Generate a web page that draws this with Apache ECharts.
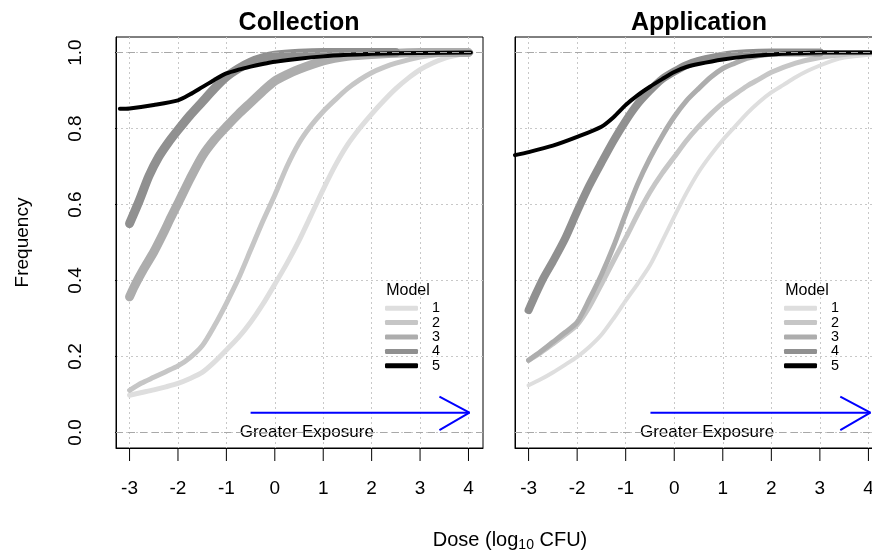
<!DOCTYPE html>
<html>
<head>
<meta charset="utf-8">
<script src="https://cdn.jsdelivr.net/npm/echarts@6/dist/echarts.min.js"></script>
<style>
html, body { margin: 0; padding: 0; background: #fff; }
#chart { width: 872px; height: 553px; }
</style>
</head>
<body>
<div id="chart"></div>
<script>
// tick values
var xTicks = [-3, -2, -1, 0, 1, 2, 3, 4];
var yTicks = [0, 0.2, 0.4, 0.6, 0.8, 1.0];
var modelNames = ['1', '2', '3', '4', '5'];
var panelTitles = ['Collection', 'Application'];

// Collection panel, [dose, frequency]
var colModel1 = [[-3,0.098],[-2.75,0.105],[-2.5,0.112],[-2.25,0.12],[-2,0.129],[-1.75,0.142],[-1.5,0.158],[-1.25,0.185],[-1,0.217],[-0.75,0.25],[-0.5,0.29],[-0.25,0.337],[0,0.39],[0.25,0.445],[0.5,0.505],[0.75,0.572],[1,0.64],[1.25,0.703],[1.5,0.757],[1.75,0.8],[2,0.838],[2.25,0.873],[2.5,0.905],[2.75,0.932],[3,0.955],[3.25,0.972],[3.5,0.985],[3.75,0.993],[4.05,1]];
var colModel2 = [[-3,0.111],[-2.75,0.13],[-2.5,0.145],[-2.25,0.16],[-2,0.175],[-1.75,0.197],[-1.5,0.228],[-1.25,0.28],[-1,0.34],[-0.75,0.405],[-0.5,0.48],[-0.25,0.555],[0,0.625],[0.25,0.7],[0.5,0.762],[0.75,0.808],[1,0.845],[1.25,0.876],[1.5,0.905],[1.75,0.928],[2,0.947],[2.25,0.961],[2.5,0.972],[3,0.988],[3.5,0.996],[4.05,1]];
var colModel3 = [[-3,0.357],[-2.9,0.385],[-2.7,0.432],[-2.5,0.475],[-2.3,0.525],[-2.15,0.565],[-2,0.603],[-1.75,0.668],[-1.5,0.727],[-1.25,0.77],[-1,0.805],[-0.75,0.838],[-0.5,0.868],[-0.25,0.898],[0,0.925],[0.25,0.942],[0.5,0.956],[1,0.978],[1.5,0.99],[2,0.995],[3,1],[4,1]];
var colModel4 = [[-3,0.55],[-2.8,0.61],[-2.6,0.675],[-2.4,0.725],[-2.2,0.763],[-2,0.796],[-1.75,0.835],[-1.5,0.87],[-1.25,0.905],[-1,0.936],[-0.75,0.958],[-0.5,0.975],[-0.25,0.986],[0,0.993],[0.5,0.998],[1,1],[2.5,1]];
var colModel5 = [[-3.2,0.852],[-3,0.853],[-2.5,0.862],[-2,0.874],[-1.75,0.89],[-1.5,0.909],[-1.25,0.928],[-1,0.945],[-0.75,0.955],[-0.5,0.963],[-0.25,0.97],[0,0.976],[0.5,0.984],[1,0.99],[1.5,0.994],[2,0.997],[3,0.999],[4.05,1]];

// Application panel, [dose, frequency]
var appModel1 = [[-3,0.124],[-2.75,0.14],[-2.5,0.158],[-2.25,0.178],[-2,0.199],[-1.75,0.225],[-1.5,0.257],[-1.25,0.3],[-1,0.347],[-0.75,0.392],[-0.5,0.44],[-0.25,0.503],[0,0.568],[0.25,0.63],[0.5,0.685],[0.75,0.73],[1,0.77],[1.25,0.805],[1.5,0.84],[1.75,0.87],[2,0.895],[2.25,0.915],[2.5,0.935],[2.75,0.952],[3,0.966],[3.25,0.978],[3.5,0.987],[4.05,0.995]];
var appModel2 = [[-3,0.19],[-2.75,0.21],[-2.5,0.233],[-2.25,0.257],[-2,0.283],[-1.75,0.33],[-1.5,0.39],[-1.25,0.452],[-1,0.512],[-0.75,0.575],[-0.5,0.633],[-0.25,0.682],[0,0.725],[0.25,0.768],[0.5,0.805],[0.75,0.838],[1,0.867],[1.25,0.89],[1.5,0.912],[1.75,0.93],[2,0.948],[2.5,0.972],[3,0.987],[3.5,0.995],[4.05,1]];
var appModel3 = [[-3,0.19],[-2.75,0.213],[-2.5,0.238],[-2.25,0.263],[-2,0.29],[-1.75,0.35],[-1.5,0.415],[-1.25,0.49],[-1,0.575],[-0.75,0.655],[-0.5,0.722],[-0.25,0.78],[0,0.831],[0.25,0.873],[0.5,0.905],[0.75,0.935],[1,0.958],[1.25,0.972],[1.5,0.985],[2,0.996],[2.5,1],[4,1]];
var appModel4 = [[-3,0.322],[-2.85,0.365],[-2.7,0.405],[-2.5,0.45],[-2.25,0.51],[-2,0.582],[-1.75,0.65],[-1.5,0.71],[-1.25,0.768],[-1,0.82],[-0.75,0.865],[-0.5,0.9],[-0.25,0.93],[0,0.95],[0.25,0.967],[0.5,0.978],[1,0.992],[1.5,0.998],[2,1],[3,1]];
var appModel5 = [[-3.28,0.73],[-3,0.738],[-2.5,0.755],[-2,0.778],[-1.5,0.805],[-1.25,0.83],[-1,0.862],[-0.75,0.888],[-0.5,0.91],[-0.25,0.93],[0,0.949],[0.25,0.962],[0.5,0.97],[1,0.982],[1.5,0.99],[2,0.995],[2.5,0.998],[3,1],[4.05,1]];

// "Greater Exposure" arrow, [dose, frequency]
var colArrowShaft = [[-0.5,0.052],[4.02,0.052]];
var colArrowHead = [[3.4,0.094],[4.02,0.052],[3.4,0.006]];
var appArrowShaft = [[-0.49,0.052],[4.04,0.052]];
var appArrowHead = [[3.42,0.094],[4.04,0.052],[3.42,0.006]];
var arrowText = 'Greater Exposure';
var colArrowTextAt = [[0.67, 0]];
var appArrowTextAt = [[0.685, 0]];

var FONT = '"Liberation Sans", Arial, sans-serif';
var modelColors = ['#dedede', '#c6c6c6', '#adadad', '#909090', '#000000'];
var colWidths = [5, 5, 9, 9, 4];
var appWidths = [4, 5, 5, 8, 4];

// axis ranges (R pads 4%) and panel sizes in px
var X_MIN = -3.28, X_MAX = 4.30, Y_MIN = -0.041, Y_MAX = 1.041;
var GRID_W = 367, GRID_H = 411, TICK_PX = 13;
var tickLenX = TICK_PX * (X_MAX - X_MIN) / GRID_W;   // in dose units
var tickLenY = TICK_PX * (Y_MAX - Y_MIN) / GRID_H;   // in frequency units

var myChart = echarts.init(document.getElementById('chart'));

function makeX(idx) {
    return {
        type: 'value', gridIndex: idx, min: X_MIN, max: X_MAX,
        axisLine: { show: true, onZero: false, lineStyle: { color: '#000', width: 1 } },
        axisTick: { show: false, customValues: xTicks },
        axisLabel: { customValues: xTicks, margin: 31, color: '#000', fontSize: 19, fontFamily: FONT },
        splitLine: { show: true, lineStyle: { color: '#c8c8c8', type: [2, 3], width: 1 } }
    };
}
function makeY(idx) {
    var y = {
        type: 'value', gridIndex: idx, min: Y_MIN, max: Y_MAX,
        axisLine: { show: true, onZero: false, lineStyle: { color: '#000', width: 1 } },
        axisTick: { show: false, customValues: yTicks },
        axisLabel: {
            show: idx == 0, customValues: yTicks, rotate: 90, margin: 31, color: '#000',
            fontSize: 19, fontFamily: FONT,
            formatter: function (v) { return v.toFixed(1); }
        },
        splitLine: { show: true, lineStyle: { color: '#c8c8c8', type: [2, 3], width: 1 } }
    };
    if (idx == 0) {
        y.name = 'Frequency';
        y.nameLocation = 'middle';
        y.nameGap = 84;
        y.nameRotate = 90;
        y.nameTextStyle = { color: '#000', fontSize: 19, fontFamily: FONT };
    }
    return y;
}

var series = [];
var colData = [colModel1, colModel2, colModel3, colModel4, colModel5];
var appData = [appModel1, appModel2, appModel3, appModel4, appModel5];

// outward tick marks, drawn as short unclipped segments
function tickSeries(idx, pts) {
    return {
        type: 'line', xAxisIndex: idx, yAxisIndex: idx, data: pts, clip: false,
        showSymbol: false, symbol: 'none', silent: true,
        lineStyle: { color: '#000', width: 1 }
    };
}

function addPanel(idx, datas, widths, shaft, head, textAt) {
    // dashed lines at 0 and 1 (plot.ecdf)
    series.push({
        type: 'line', xAxisIndex: idx, yAxisIndex: idx, data: [], silent: true,
        markLine: {
            symbol: 'none', silent: true, label: { show: false },
            lineStyle: { color: '#a8a8a8', type: [7, 5], width: 1 },
            data: [{ yAxis: 0 }, { yAxis: 1 }]
        }
    });
    for (var i = 0; i < datas.length; i++) {
        series.push({
            name: modelNames[i], type: 'line', xAxisIndex: idx, yAxisIndex: idx,
            data: datas[i], showSymbol: false, symbol: 'none', smooth: 0.25,
            color: modelColors[i],
            lineStyle: { color: modelColors[i], width: widths[i], cap: 'round', join: 'round' },
            silent: true
        });
    }
    series.push({
        type: 'line', xAxisIndex: idx, yAxisIndex: idx, data: shaft, showSymbol: false, symbol: 'none',
        lineStyle: { color: '#0000ff', width: 2 }, silent: true
    });
    series.push({
        type: 'line', xAxisIndex: idx, yAxisIndex: idx, data: head, showSymbol: false, symbol: 'none',
        lineStyle: { color: '#0000ff', width: 2 }, silent: true
    });
    series.push({
        type: 'scatter', xAxisIndex: idx, yAxisIndex: idx, data: textAt, symbolSize: 1,
        itemStyle: { color: 'rgba(255,255,255,0)', opacity: 1 }, silent: true,
        label: {
            show: true, position: [0, 0], align: 'center', verticalAlign: 'middle',
            formatter: arrowText, color: '#000', fontSize: 17, fontFamily: FONT
        }
    });
    xTicks.forEach(function (t) {
        series.push(tickSeries(idx, [[t, Y_MIN], [t, Y_MIN - tickLenY]]));
    });
    if (idx == 0) {
        yTicks.forEach(function (t) {
            series.push(tickSeries(idx, [[X_MIN, t], [X_MIN - tickLenX, t]]));
        });
    }
}
addPanel(0, colData, colWidths, colArrowShaft, colArrowHead, colArrowTextAt);
addPanel(1, appData, appWidths, appArrowShaft, appArrowHead, appArrowTextAt);

function makeLegend(left) {
    return {
        data: modelNames, orient: 'vertical', left: left, top: 301, padding: 0,
        itemGap: 0, itemWidth: 33, itemHeight: 5, icon: 'roundRect',
        selectedMode: false,
        textStyle: { color: '#000', fontSize: 14.4, lineHeight: 14.4, fontFamily: FONT, padding: [0, 0, 0, 9] }
    };
}

var option = {
    backgroundColor: '#fff',
    animation: false,
    grid: [
        { left: 116, width: GRID_W, top: 37, bottom: 105, outerBoundsMode: 'none', show: true, borderColor: '#000' },
        { left: 515, width: GRID_W + 1, top: 37, bottom: 105, outerBoundsMode: 'none', show: true, borderColor: '#000' }
    ],
    xAxis: [makeX(0), makeX(1)],
    yAxis: [makeY(0), makeY(1)],
    legend: [makeLegend(385), makeLegend(784)],
    series: series,
    graphic: [
        { type: 'text', x: 299, y: 23, silent: true,
          style: { text: panelTitles[0], fill: '#000', font: 'bold 25px ' + FONT, textAlign: 'center', textVerticalAlign: 'middle' } },
        { type: 'text', x: 699, y: 23, silent: true,
          style: { text: panelTitles[1], fill: '#000', font: 'bold 25px ' + FONT, textAlign: 'center', textVerticalAlign: 'middle' } },
        { type: 'text', x: 408, y: 291, silent: true,
          style: { text: 'Model', fill: '#000', font: '16px ' + FONT, textAlign: 'center', textVerticalAlign: 'middle' } },
        { type: 'text', x: 807, y: 291, silent: true,
          style: { text: 'Model', fill: '#000', font: '16px ' + FONT, textAlign: 'center', textVerticalAlign: 'middle' } },
        { type: 'text', x: 510, y: 540, silent: true,
          style: {
              text: '{a|Dose (log}{b|10}{a| CFU)}', textAlign: 'center', textVerticalAlign: 'middle',
              rich: {
                  a: { fontSize: 20, fontFamily: FONT, fill: '#000', color: '#000' },
                  b: { fontSize: 14, fontFamily: FONT, fill: '#000', color: '#000', padding: [10, 0, 0, 0] }
              }
          } }
    ]
};
myChart.setOption(option);
</script>
</body>
</html>
